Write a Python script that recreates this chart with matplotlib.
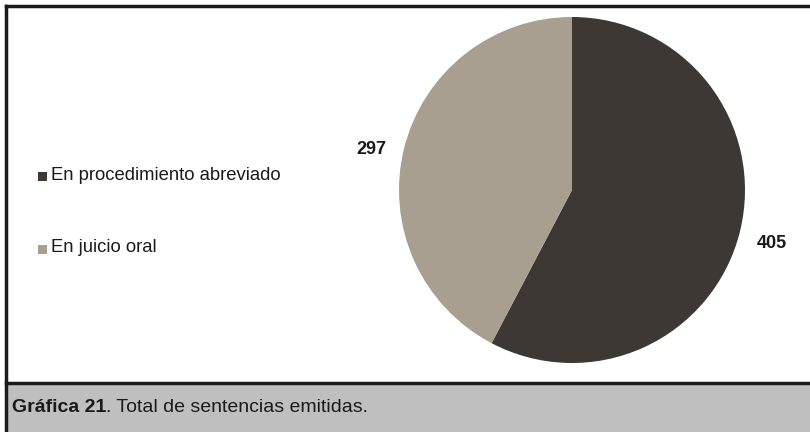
import matplotlib.pyplot as plt
from matplotlib.patches import Rectangle
from matplotlib.lines import Line2D

plt.rcParams['font.family'] = ['Liberation Sans', 'DejaVu Sans']

categories = ['En procedimiento abreviado', 'En juicio oral']
values = [405, 297]
colors = ['#3d3833', '#a89f91']
caption_bold = 'Gráfica 21'
caption_rest = '. Total de sentencias emitidas.'

W, H = 810, 432
fig = plt.figure(figsize=(W / 100, H / 100), dpi=100)

# caption band and frame (left, top, separator; open on right and bottom)
fig.patches.append(Rectangle((6 / W, 0), 1, (H - 384) / H, transform=fig.transFigure,
                             facecolor='#bfbfbf', edgecolor='none', zorder=0))
frame = dict(transform=fig.transFigure, color='#1a1a1a', linewidth=2.5, zorder=5)
fig.lines.append(Line2D([6 / W, 6 / W], [0, 1 - 6 / H], solid_capstyle='projecting', **frame))
fig.lines.append(Line2D([6 / W, 1], [1 - 6 / H, 1 - 6 / H], **frame))
fig.lines.append(Line2D([6 / W, 1], [1 - 383 / H, 1 - 383 / H], **frame))

# pie
cx, cy, r = 572, 190, 173
ax = fig.add_axes([(cx - r) / W, 1 - (cy + r) / H, 2 * r / W, 2 * r / H])
wedges, _ = ax.pie(values, colors=colors, startangle=90, counterclock=False,
                   wedgeprops=dict(linewidth=0))
ax.set_xlim(-1, 1)
ax.set_ylim(-1, 1)
ax.set_aspect('equal')
ax.axis('off')

fig.text(772 / W, 1 - 243 / H, str(values[0]), ha='center', va='center',
         fontsize=13, fontweight='bold', color='#1a1a1a')
fig.text(371 / W, 1 - 149 / H, str(values[1]), ha='center', va='center',
         fontsize=13, fontweight='bold', color='#1a1a1a')

# legend
for i, (lab, col) in enumerate(zip(categories, colors)):
    y = 1 - (177 + 72 * i) / H
    fig.patches.append(Rectangle((38 / W, y - 4.5 / H), 9 / W, 9 / H, transform=fig.transFigure,
                                 facecolor=col, edgecolor='none'))
    fig.text(51 / W, y + 1.5 / H, lab, ha='left', va='center', fontsize=13.3, color='#1a1a1a')

# caption
t = fig.text(12 / W, 1 - 407 / H, caption_bold, ha='left', va='center',
             fontsize=14, fontweight='bold', color='#1a1a1a')
fig.canvas.draw()
bb = t.get_window_extent()
fig.text(bb.x1 / W, 1 - 407 / H, caption_rest, ha='left', va='center',
         fontsize=14, color='#1a1a1a')

fig.savefig('out.png', dpi=100)
